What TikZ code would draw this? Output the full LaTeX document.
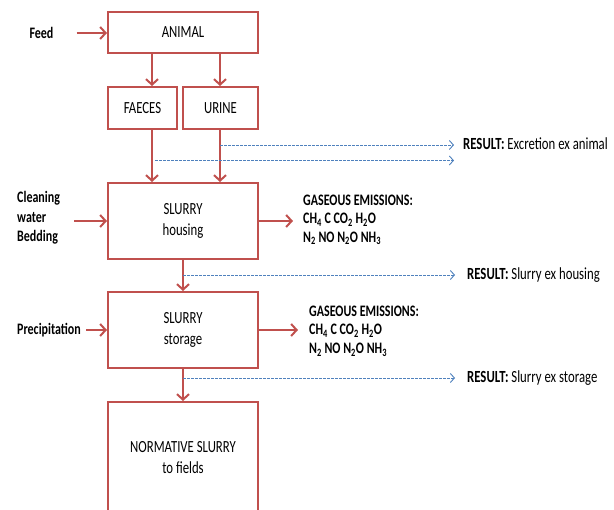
\documentclass[tikz,border=0pt]{standalone}
\usepackage{fontspec}
\setmainfont{Carlito}[FakeStretch=0.75]
\usetikzlibrary{positioning,arrows.meta}
\definecolor{boxred}{HTML}{C0504D}
\definecolor{resblue}{HTML}{4F81BD}

\begin{document}
\begin{tikzpicture}[x=1pt,y=-1pt,node distance=8pt,
  font=\fontsize{17}{21}\selectfont,
  stage/.style={draw=boxred,line width=2pt,minimum width=150pt,align=center,inner sep=2pt},
  flow/.style={draw=boxred,line width=2pt,-{Straight Barb[length=5.5pt,width=12pt]}},
  tally/.style={draw=resblue,line width=0.9pt,dash pattern=on 2.5pt off 1.5pt,-{Straight Barb[length=4pt,width=9pt]}},
  inlabel/.style={font=\fontsize{16}{19.5}\selectfont\bfseries,align=left,inner sep=0pt},
  gas/.style={font=\fontsize{16}{18.5}\selectfont\bfseries,align=left,inner sep=0pt,anchor=west},
  result/.style={inner sep=0pt,anchor=west}]
     \path[use as bounding box,clip] (0,0) rectangle (614,510);

     \node[stage,minimum height=41pt] (animal) at (183,32.5) {ANIMAL};
     \node[stage,minimum width=69pt,minimum height=42pt] (faeces) at (142.5,108) {FAECES};
     \node[stage,minimum width=75pt,minimum height=42pt] (urine) at (220.5,108) {URINE};
     \node[stage,minimum height=76pt] (housing) at (183,221) {SLURRY\\housing};
     \node[stage,minimum height=76pt] (storage) at (183,330) {SLURRY\\storage};
     \node[stage,minimum height=112pt] (normative) at (183,458) {NORMATIVE SLURRY\\to fields};

     \node[inlabel] (feed) at (41.5,33) {Feed};
     \node[inlabel,anchor=west] (cleaning) at (17,218) {Cleaning\\water\\Bedding};
     \node[inlabel,anchor=west] (precip) at (17,330) {Precipitation};

     \node[gas] (gas1) at (303,220) {GASEOUS EMISSIONS:\\CH\textsubscript{4} C CO\textsubscript{2} H\textsubscript{2}O\\N\textsubscript{2} NO N\textsubscript{2}O NH\textsubscript{3}};
     \node[gas] (gas2) at (309,331) {GASEOUS EMISSIONS:\\CH\textsubscript{4} C CO\textsubscript{2} H\textsubscript{2}O\\N\textsubscript{2} NO N\textsubscript{2}O NH\textsubscript{3}};

     \node[result] (res1) at (463,144) {\textbf{RESULT:} Excretion ex animal};
     \node[result] (res3) at (467,275) {\textbf{RESULT:} Slurry ex housing};
     \node[result] (res4) at (467,378) {\textbf{RESULT:} Slurry ex storage};

     \coordinate (fx) at (152,0);
     \coordinate (ux) at (220,0);
     \coordinate (t1) at (220,145);
     \coordinate (t2) at (155,160.5);
     \coordinate (e2) at (454,160.5);
     \coordinate (t3) at (183,275);
     \coordinate (t4) at (183,378);

     \draw[flow,shorten <=23pt] (feed.east) -- (feed.east -| animal.west);
     \draw[flow,shorten <=14pt] (cleaning.east |- housing.west) -- (housing.west);
     \draw[flow,shorten <=5pt] (precip.east |- storage.west) -- (storage.west);

     \draw[flow] (animal.south -| fx) -- (faeces.north -| fx);
     \draw[flow] (animal.south -| ux) -- (urine.north -| ux);
     \draw[flow] (faeces.south -| fx) -- (housing.north -| fx);
     \draw[flow] (urine.south -| ux) -- (housing.north -| ux);
     \draw[flow] (housing) -- (storage);
     \draw[flow] (storage) -- (normative);

     \draw[flow,shorten >=10pt] (housing.east) -- (housing.east -| gas1.west);
     \draw[flow,shorten >=11pt] (storage.east) -- (storage.east -| gas2.west);

     \draw[tally,shorten >=9pt] (t1) -- (t1 -| res1.west);
     \draw[tally] (t2) -- (e2);
     \draw[tally,shorten >=12pt] (t3) -- (t3 -| res3.west);
     \draw[tally,shorten >=12pt] (t4) -- (t4 -| res4.west);
\end{tikzpicture}
\end{document}
